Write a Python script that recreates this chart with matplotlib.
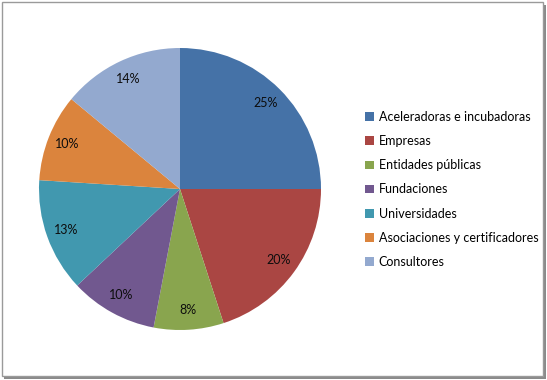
import matplotlib.pyplot as plt
from matplotlib.patches import Rectangle

categorias = ["Aceleradoras e incubadoras", "Empresas", "Entidades públicas",
              "Fundaciones", "Universidades", "Asociaciones y certificadores",
              "Consultores"]
porcentajes = [25, 20, 8, 10, 13, 10, 14]
colores = ["#4572A7", "#AA4643", "#89A54E", "#71588F", "#4198AF", "#DB843D", "#93A9CF"]

plt.rcParams['font.family'] = ['Lato', 'DejaVu Sans']

fig = plt.figure(figsize=(5.47, 3.80), dpi=100)
W, H = 547, 380

# marco del gráfico con sombra
fig.patches.append(Rectangle((4 / W, 1 / H), 542 / W, 374 / H, transform=fig.transFigure,
                             facecolor="#8a8a8a", edgecolor="none", zorder=-2))
fig.patches.append(Rectangle((2 / W, 4 / H), 541 / W, 374 / H, transform=fig.transFigure,
                             facecolor="white", edgecolor="#9a9a9a", linewidth=1, zorder=-1))

ax = fig.add_axes([(180 - 141) / W, (H - 189 - 141) / H, 282 / W, 282 / H], zorder=5)
ax.patch.set_visible(False)
wedges, texts, autotexts = ax.pie(porcentajes, colors=colores, startangle=90, counterclock=False,
                                  autopct="%d%%", pctdistance=0.86, radius=1.0,
                                  wedgeprops=dict(linewidth=0),
                                  textprops=dict(fontsize=9, color="#0d0d0d"))
ax.set_xlim(-1, 1)
ax.set_ylim(-1, 1)
ax.set_aspect("equal")

leg = fig.legend(wedges, categorias, loc="upper left", bbox_to_anchor=(360 / W, 1 - 106 / H),
                 frameon=False, fontsize=9, handlelength=0.7, handleheight=0.7,
                 handletextpad=0.4, labelspacing=0.97, borderaxespad=0)
leg.set_zorder(6)

fig.savefig("out.png", dpi=100)
